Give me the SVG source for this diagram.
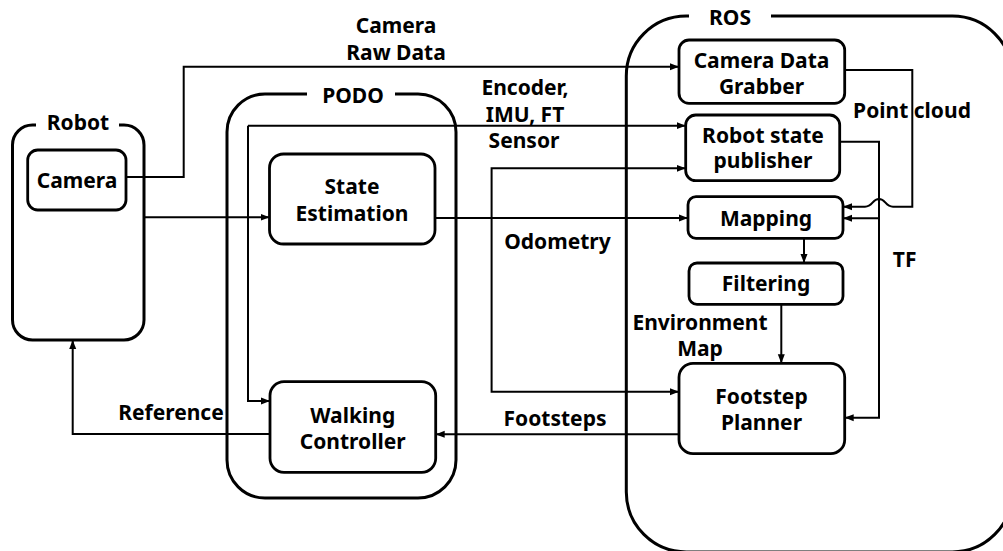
<svg xmlns="http://www.w3.org/2000/svg" width="1003" height="551" viewBox="0 0 1003 551">
<style>
.ctr{fill:none;stroke:#000;stroke-width:3}
.box{fill:#fff;stroke:#000;stroke-width:2.8}
.wire{fill:none;stroke:#000;stroke-width:2;marker-end:url(#ah)}
.bg{fill:#fff;stroke:none}
text{font-family:"Noto Sans","Open Sans","DejaVu Sans",sans-serif;font-weight:bold;font-size:21px;fill:#000;text-anchor:middle}
</style>
<defs>
<marker id="ah" markerWidth="9" markerHeight="8" refX="9" refY="4" orient="auto" markerUnits="userSpaceOnUse">
<path d="M0,0.5 L9,4 L0,7.5 z" fill="#000"/>
</marker>
</defs>
<rect width="1003" height="551" fill="#fff"/>

<g id="containers">
<g id="robot-container">
<rect class="ctr" x="12.5" y="125" width="131.5" height="215" rx="20"/>
<rect class="bg" x="36" y="110" width="83" height="28"/>
<text x="78" y="129.5">Robot</text>
</g>
<g id="podo-container">
<rect class="ctr" x="227" y="94" width="229" height="404" rx="38"/>
<rect class="bg" x="307" y="80" width="88" height="28"/>
<text x="353" y="102.5">PODO</text>
</g>
<g id="ros-container">
<rect class="ctr" x="626.3" y="16" width="386" height="536" rx="60"/>
<rect class="bg" x="689" y="2" width="82" height="28"/>
<text x="730" y="25">ROS</text>
</g>
</g>

<g id="connectors">
<path class="wire" d="M126,177 H183.7 V66.7 H679"/>
<path class="wire" d="M248,125.7 H685.7"/>
<path class="wire" d="M248,125.7 V401 H270"/>
<path class="wire" d="M144,217.3 H269.5"/>
<path class="wire" d="M435,218 H688"/>
<path class="wire" d="M491.6,218 V168.3 H685.7"/>
<path class="wire" d="M491.6,218 V391.7 H679"/>
<path class="wire" d="M844.7,70 H912.3 V206.7 H893 C885,206.7 886,199 879,199 C872,199 873,206.7 865,206.7 H843"/>
<path class="wire" d="M839.7,141.7 H879 V417.7 H844.7"/>
<path class="wire" d="M879,218.3 H843"/>
<path class="wire" d="M804,238.3 V263"/>
<path class="wire" d="M781.3,304.3 V363.3"/>
<path class="wire" d="M679,434.3 H435.7"/>
<path class="wire" d="M270,434 H72.7 V340"/>
</g>

<g id="labels">
<text x="396" y="33.3">Camera</text>
<text x="396" y="60">Raw Data</text>
<text x="525" y="95">Encoder,</text>
<text x="525" y="121.7">IMU, FT</text>
<text x="524" y="148">Sensor</text>
<text x="912" y="118.3">Point cloud</text>
<text x="557.5" y="249">Odometry</text>
<text x="904.7" y="266.7">TF</text>
<text x="700" y="330">Environment</text>
<text x="700" y="356">Map</text>
<text x="555" y="425.5">Footsteps</text>
<text x="171" y="420">Reference</text>
</g>

<g id="camera">
<rect class="box" x="27.7" y="150" width="98.3" height="60" rx="10"/>
<text x="77" y="187.5">Camera</text>
</g>
<g id="state-estimation">
<rect class="box" x="269.5" y="154" width="165.5" height="90" rx="14"/>
<text x="352" y="194">State</text>
<text x="352" y="220.5">Estimation</text>
</g>
<g id="walking-controller">
<rect class="box" x="270" y="381.7" width="165.7" height="90.6" rx="14"/>
<text x="352.7" y="423">Walking</text>
<text x="352.7" y="449">Controller</text>
</g>
<g id="camera-data-grabber">
<rect class="box" x="679" y="40" width="165.7" height="63.3" rx="10"/>
<text x="761.5" y="68">Camera Data</text>
<text x="761.5" y="94">Grabber</text>
</g>
<g id="robot-state-publisher">
<rect class="box" x="685.7" y="115" width="154" height="65.7" rx="10"/>
<text x="763" y="142.7">Robot state</text>
<text x="763" y="168">publisher</text>
</g>
<g id="mapping">
<rect class="box" x="688" y="196.7" width="155" height="41.6" rx="8"/>
<text x="766" y="225.5">Mapping</text>
</g>
<g id="filtering">
<rect class="box" x="689" y="263" width="154" height="41.3" rx="8"/>
<text x="766" y="291">Filtering</text>
</g>
<g id="footstep-planner">
<rect class="box" x="679" y="363.3" width="165.7" height="90.4" rx="14"/>
<text x="761.5" y="403.5">Footstep</text>
<text x="761.5" y="429.5">Planner</text>
</g>
</svg>
